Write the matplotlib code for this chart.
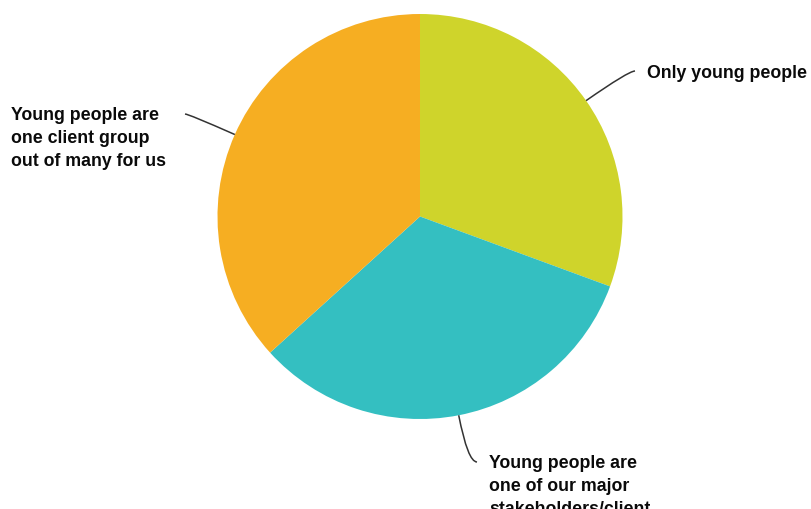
import numpy as np
import matplotlib
matplotlib.use("Agg")
import matplotlib.pyplot as plt
from matplotlib.path import Path
from matplotlib.patches import PathPatch

# Survey responses: how central are young people to the organisation
categories = [
    "Only young people",
    "Young people are\none of our major\nstakeholders/client\ngroups",
    "Young people are\none client group\nout of many for us",
]
counts = [15, 16, 18]
colors = ["#CFD42B", "#34BFC1", "#F6AE22"]

W, H = 812, 510
fig = plt.figure(figsize=(W / 100, H / 100), dpi=100)
ax = fig.add_axes([0, 0, 1, 1])

cx, cy, r = 420, 292.5, 202.5
wedges, _ = ax.pie(counts, colors=colors, startangle=90, counterclock=False,
                   center=(cx, cy), radius=r, frame=True,
                   wedgeprops=dict(linewidth=0, antialiased=True))
ax.set_xlim(0, W)
ax.set_ylim(0, H)
ax.set_aspect("equal")
ax.axis("off")

# label placement: text anchor and where the leader line ends
label_layout = [
    dict(tx=647, ty=437, va="center", end=(635, 438)),
    dict(tx=489, ty=55, va="top", end=(477, 47)),
    dict(tx=11, ty=403, va="top", end=(185, 395)),
]

for w, lab, lay in zip(wedges, categories, label_layout):
    mid = np.deg2rad((w.theta1 + w.theta2) / 2)
    p0 = (cx + r * np.cos(mid), cy + r * np.sin(mid))
    ex, ey = lay["end"]
    # control point: continue radially until reaching the end point's level
    t = (ey - cy) / np.sin(mid)
    c = (cx + t * np.cos(mid), cy + t * np.sin(mid))
    path = Path([p0, c, (ex, ey)], [Path.MOVETO, Path.CURVE3, Path.CURVE3])
    ax.add_patch(PathPatch(path, fill=False, edgecolor="#333333", lw=1.1))
    ax.text(lay["tx"], lay["ty"], lab, ha="left", va=lay["va"],
            fontsize=12.8, fontweight="bold", family="Liberation Sans",
            color="#0a0a0a", linespacing=1.45)

fig.savefig("out.png", dpi=100)
